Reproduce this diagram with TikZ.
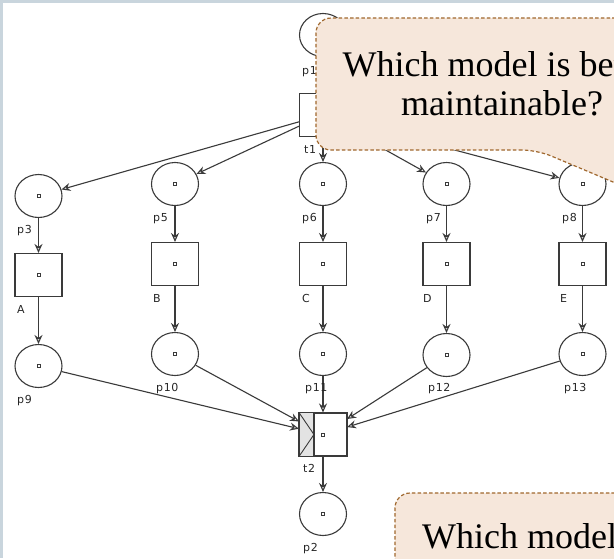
\documentclass[tikz,border=0pt]{standalone}
\usepackage{fontspec}
\usetikzlibrary{arrows.meta,shapes.geometric}
\newfontfamily\qfont{Liberation Serif}
\newfontfamily\lblfont[LetterSpace=6]{DejaVu Sans}
\definecolor{netline}{HTML}{3A3A3A}
\definecolor{calloutfill}{HTML}{F6E7DB}
\definecolor{calloutedge}{HTML}{A0682E}
\definecolor{framecol}{HTML}{C9D5DD}
\tikzset{
  token/.style={path picture={\draw[line width=0.6pt, netline, fill=white]
      ([shift={(-1.6pt,-1.6pt)}]path picture bounding box.center) rectangle ++(3.2pt,3.2pt);}},
  place/.style={ellipse, draw=netline, line width=1.1pt, fill=white,
      minimum width=47pt, minimum height=43pt, inner sep=0pt, token},
  trans/.style={rectangle, draw=netline, line width=1.1pt, fill=white,
      minimum width=47pt, minimum height=43pt, inner sep=0pt, token},
  lbl/.style={anchor=west, inner sep=0pt, font=\lblfont\fontsize{11}{13}\selectfont, text=black!85},
  arc/.style={draw=netline, line width=1.1pt, -{Stealth[open, length=9pt, width=8pt, inset=3pt]}},
  callout/.style={fill=calloutfill, draw=calloutedge, line width=1.2pt,
      dash pattern=on 3.5pt off 2.2pt, rounded corners=15pt},
  qtext/.style={anchor=base, inner sep=0pt, font=\qfont\fontsize{36}{40}\selectfont, text=black}
}
\begin{document}
\begin{tikzpicture}[x=1pt, y=-1pt]
\useasboundingbox (0,0) rectangle (614,558);
\clip (0,0) rectangle (614,558);
\fill[white] (0,0) rectangle (614,558);
% window frame
\fill[framecol] (0,0) rectangle (2.5,558);
\fill[framecol] (0,0) rectangle (614,2.5);

% places and transitions
\node[place] (p1) at (323,35) {};
\node[trans] (t1) at (323,115) {};
\node[place] (p3) at (38.5,196) {};
\node[place] (p5) at (175,184) {};
\node[place] (p6) at (323,184) {};
\node[place] (p7) at (446.5,184) {};
\node[place] (p8) at (582.5,184) {};
\node[trans] (A) at (38.5,275) {};
\node[trans] (B) at (175,264) {};
\node[trans] (C) at (323,264) {};
\node[trans] (D) at (446.5,264) {};
\node[trans] (E) at (582.5,264) {};
\node[place] (p9) at (38.5,366) {};
\node[place] (p10) at (175,354) {};
\node[place] (p11) at (323,354) {};
\node[place] (p12) at (446.5,355) {};
\node[place] (p13) at (582.5,354) {};
\node[trans] (t2) at (323,434.5) {};
\node[place] (p2) at (323,514) {};

% and-join decoration of t2
\fill[black!11] (t2.north west) rectangle ([xshift=15pt]t2.south west);
\draw[netline, line width=0.9pt] (t2.north west) -- ([xshift=15pt]t2.west) -- (t2.south west);
\draw[netline, line width=1.1pt] ([xshift=15pt]t2.north west) -- ([xshift=15pt]t2.south west);
\draw[netline, line width=1.1pt] (t2.north west) rectangle (t2.south east);
\fill[white, draw=netline, line width=0.6pt] ([shift={(-1.6pt,-1.6pt)}]t2.center) rectangle ++(3.2pt,3.2pt);

% arcs
\draw[arc] (p1) -- (t1);
\foreach \p in {p3,p5,p6,p7,p8} \draw[arc] (t1) -- (\p);
\draw[arc] (p3) -- (A);  \draw[arc] (A) -- (p9);
\draw[arc] (p5) -- (B);  \draw[arc] (B) -- (p10);
\draw[arc] (p6) -- (C);  \draw[arc] (C) -- (p11);
\draw[arc] (p7) -- (D);  \draw[arc] (D) -- (p12);
\draw[arc] (p8) -- (E);  \draw[arc] (E) -- (p13);
\foreach \p in {p9,p10,p11,p12,p13} \draw[arc] (\p) -- (t2);
\draw[arc] (t2) -- (p2);

% labels
\node[lbl] (lp1) at (302,72) {p1};
\node[lbl] (lt1) at (304,149) {t1};
\node[lbl] (lp3) at (17,231) {p3};
\node[lbl] (lp5) at (153,219) {p5};
\node[lbl] (lp6) at (302,219) {p6};
\node[lbl] (lp7) at (426,219) {p7};
\node[lbl] (lp8) at (562,219) {p8};
\node[lbl] (lA) at (17,309) {A};
\node[lbl] (lB) at (153,298) {B};
\node[lbl] (lC) at (302,298) {C};
\node[lbl] (lD) at (423,298) {D};
\node[lbl] (lE) at (560,298) {E};
\node[lbl] (lp9) at (17,401) {p9};
\node[lbl] (lp10) at (156,389) {p10};
\node[lbl] (lp11) at (305,389) {p11};
\node[lbl] (lp12) at (428,389) {p12};
\node[lbl] (lp13) at (564,389) {p13};
\node[lbl] (lt2) at (303,468) {t2};
\node[lbl] (lp2) at (303,549) {p2};

% callouts
\path[callout] (537,150) -- (316,150) -- (316,18) -- (720,18) -- (720,227) -- cycle;
\node[qtext] (q1a) at (502,76) {Which model is better};
\node[qtext] (q1b) at (502,115) {maintainable?};

\path[callout] (395,640) -- (395,493) -- (720,493) -- (720,640) -- cycle;
\node[qtext, anchor=base west] (q2) at (422,548) {Which model};
\end{tikzpicture}
\end{document}
